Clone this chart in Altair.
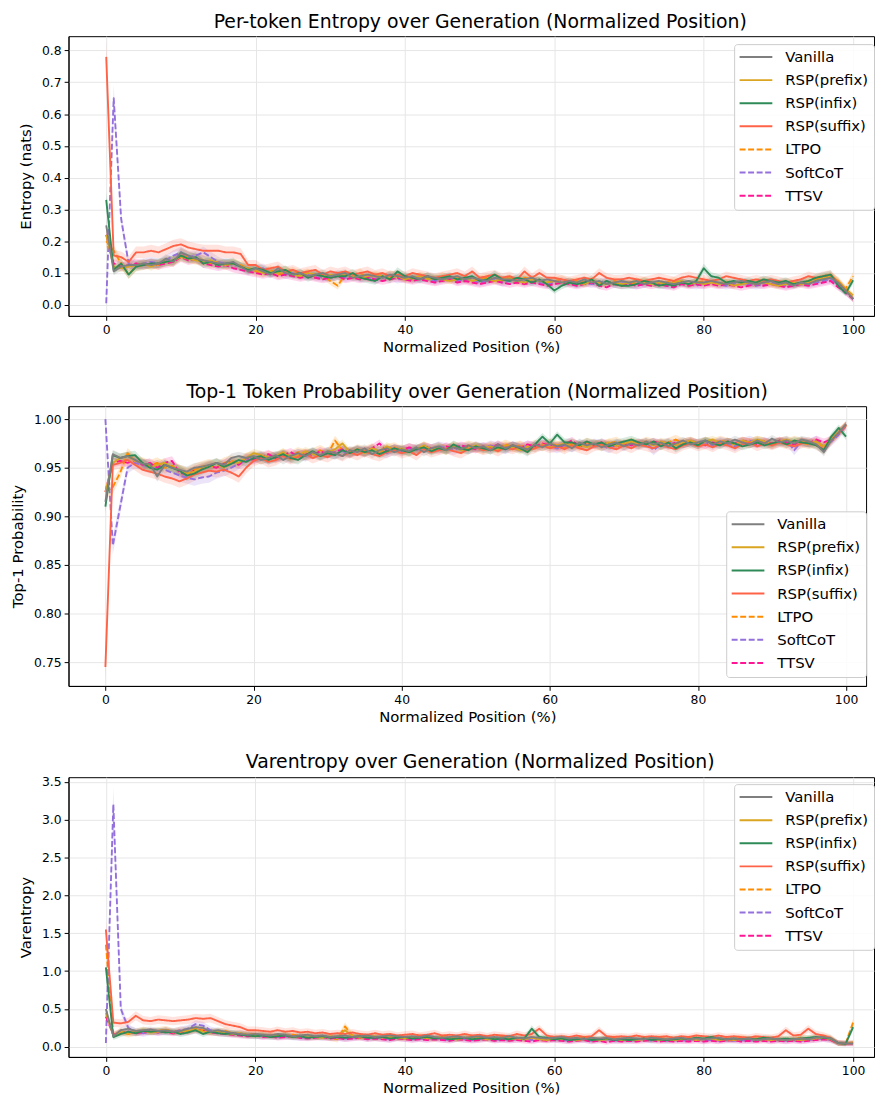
import altair as alt
import pandas as pd

METHODS = ["Vanilla", "RSP(prefix)", "RSP(infix)", "RSP(suffix)", "LTPO", "SoftCoT", "TTSV"]
COLORS = ["#7f7f7f", "#DAA520", "#2E8B57", "#FF6347", "#FF8C00", "#9370DB", "#FF1493"]
DASHED = [False, False, False, False, True, True, True]
DRAW_ORDER = ["LTPO", "SoftCoT", "TTSV", "RSP(prefix)", "RSP(suffix)", "RSP(infix)", "Vanilla"]
POS = list(range(101))
X_TICKS = [0, 20, 40, 60, 80, 100]

# ---------------- Per-token entropy (nats) ----------------
E_VAN = [
    0.25, 0.105, 0.12, 0.125, 0.125, 0.13, 0.125, 0.13, 0.145, 0.135,
    0.165, 0.155, 0.145, 0.14, 0.135, 0.13, 0.13, 0.135, 0.12, 0.105,
    0.115, 0.105, 0.095, 0.115, 0.10, 0.095, 0.10, 0.09, 0.095, 0.10,
    0.09, 0.095, 0.10, 0.085, 0.09, 0.095, 0.09, 0.085, 0.095, 0.09,
    0.085, 0.09, 0.08, 0.09, 0.085, 0.08, 0.085, 0.09, 0.08, 0.085,
    0.08, 0.075, 0.085, 0.08, 0.08, 0.075, 0.08, 0.085, 0.075, 0.08,
    0.075, 0.07, 0.075, 0.07, 0.08, 0.07, 0.075, 0.065, 0.07, 0.075,
    0.07, 0.075, 0.065, 0.07, 0.075, 0.07, 0.065, 0.07, 0.075, 0.07,
    0.07, 0.075, 0.07, 0.065, 0.07, 0.075, 0.07, 0.065, 0.07, 0.075,
    0.065, 0.07, 0.06, 0.07, 0.065, 0.075, 0.08, 0.085, 0.07, 0.045,
    0.018]
E_PRE = [
    0.22, 0.12, 0.115, 0.12, 0.125, 0.13, 0.12, 0.13, 0.135, 0.14,
    0.15, 0.145, 0.14, 0.135, 0.14, 0.13, 0.125, 0.13, 0.12, 0.115,
    0.11, 0.10, 0.105, 0.10, 0.11, 0.095, 0.09, 0.10, 0.095, 0.09,
    0.095, 0.09, 0.095, 0.09, 0.085, 0.09, 0.095, 0.09, 0.085, 0.09,
    0.08, 0.085, 0.09, 0.08, 0.085, 0.08, 0.075, 0.08, 0.085, 0.075,
    0.08, 0.08, 0.075, 0.08, 0.085, 0.075, 0.07, 0.08, 0.075, 0.07,
    0.075, 0.07, 0.075, 0.07, 0.065, 0.075, 0.07, 0.065, 0.07, 0.065,
    0.07, 0.075, 0.07, 0.065, 0.07, 0.065, 0.07, 0.075, 0.065, 0.07,
    0.065, 0.07, 0.065, 0.07, 0.06, 0.065, 0.07, 0.065, 0.07, 0.065,
    0.06, 0.065, 0.07, 0.065, 0.07, 0.075, 0.085, 0.09, 0.075, 0.05,
    0.03]
E_INF = [
    0.33, 0.11, 0.13, 0.095, 0.12, 0.125, 0.13, 0.13, 0.135, 0.14,
    0.155, 0.145, 0.15, 0.13, 0.135, 0.125, 0.13, 0.13, 0.12, 0.11,
    0.115, 0.11, 0.10, 0.105, 0.11, 0.095, 0.10, 0.085, 0.095, 0.09,
    0.085, 0.09, 0.09, 0.10, 0.085, 0.08, 0.075, 0.09, 0.08, 0.105,
    0.09, 0.085, 0.08, 0.09, 0.08, 0.085, 0.09, 0.08, 0.085, 0.09,
    0.075, 0.08, 0.095, 0.08, 0.075, 0.085, 0.08, 0.07, 0.08, 0.065,
    0.045, 0.06, 0.07, 0.065, 0.07, 0.08, 0.06, 0.075, 0.065, 0.06,
    0.06, 0.065, 0.075, 0.07, 0.06, 0.065, 0.06, 0.07, 0.065, 0.075,
    0.115, 0.09, 0.085, 0.07, 0.075, 0.07, 0.075, 0.07, 0.08, 0.075,
    0.07, 0.075, 0.065, 0.07, 0.075, 0.085, 0.09, 0.095, 0.06, 0.036,
    0.077]
E_SUF = [
    0.78, 0.155, 0.15, 0.135, 0.165, 0.165, 0.17, 0.165, 0.175, 0.185,
    0.19, 0.18, 0.175, 0.17, 0.17, 0.17, 0.165, 0.165, 0.16, 0.125,
    0.125, 0.11, 0.115, 0.12, 0.105, 0.11, 0.10, 0.105, 0.11, 0.095,
    0.105, 0.10, 0.105, 0.095, 0.10, 0.105, 0.095, 0.10, 0.09, 0.095,
    0.09, 0.10, 0.095, 0.09, 0.085, 0.09, 0.095, 0.10, 0.09, 0.105,
    0.085, 0.09, 0.095, 0.085, 0.09, 0.08, 0.105, 0.085, 0.10, 0.085,
    0.085, 0.08, 0.075, 0.08, 0.085, 0.08, 0.10, 0.085, 0.08, 0.08,
    0.085, 0.08, 0.075, 0.08, 0.085, 0.08, 0.075, 0.085, 0.09, 0.085,
    0.08, 0.075, 0.08, 0.09, 0.085, 0.08, 0.075, 0.08, 0.075, 0.08,
    0.075, 0.07, 0.075, 0.08, 0.09, 0.085, 0.09, 0.095, 0.07, 0.045,
    0.02]
E_LTPO = [
    0.20, 0.17, 0.13, 0.095, 0.12, 0.125, 0.13, 0.125, 0.14, 0.135,
    0.16, 0.15, 0.145, 0.14, 0.13, 0.135, 0.125, 0.13, 0.125, 0.115,
    0.105, 0.10, 0.11, 0.095, 0.10, 0.105, 0.095, 0.10, 0.09, 0.095,
    0.075, 0.06, 0.095, 0.09, 0.10, 0.085, 0.09, 0.085, 0.095, 0.09,
    0.085, 0.08, 0.09, 0.085, 0.08, 0.09, 0.08, 0.085, 0.08, 0.075,
    0.08, 0.085, 0.08, 0.075, 0.08, 0.075, 0.085, 0.08, 0.075, 0.07,
    0.075, 0.08, 0.07, 0.075, 0.07, 0.075, 0.07, 0.065, 0.075, 0.07,
    0.065, 0.07, 0.075, 0.07, 0.065, 0.07, 0.075, 0.07, 0.065, 0.07,
    0.075, 0.07, 0.065, 0.07, 0.065, 0.07, 0.065, 0.07, 0.075, 0.07,
    0.065, 0.07, 0.065, 0.07, 0.075, 0.08, 0.085, 0.09, 0.075, 0.05,
    0.09]
E_SOFT = [
    0.005, 0.65, 0.27, 0.13, 0.125, 0.13, 0.135, 0.13, 0.14, 0.155,
    0.165, 0.15, 0.155, 0.165, 0.15, 0.135, 0.13, 0.125, 0.12, 0.115,
    0.11, 0.115, 0.10, 0.105, 0.095, 0.10, 0.09, 0.095, 0.09, 0.085,
    0.09, 0.095, 0.085, 0.09, 0.085, 0.09, 0.08, 0.085, 0.09, 0.08,
    0.085, 0.08, 0.085, 0.08, 0.075, 0.08, 0.085, 0.075, 0.08, 0.075,
    0.07, 0.075, 0.08, 0.07, 0.075, 0.08, 0.07, 0.075, 0.07, 0.065,
    0.07, 0.075, 0.07, 0.065, 0.07, 0.065, 0.07, 0.075, 0.065, 0.07,
    0.065, 0.06, 0.065, 0.07, 0.065, 0.06, 0.065, 0.07, 0.065, 0.06,
    0.065, 0.07, 0.065, 0.06, 0.065, 0.07, 0.065, 0.06, 0.065, 0.07,
    0.065, 0.06, 0.065, 0.07, 0.065, 0.07, 0.075, 0.08, 0.065, 0.04,
    0.018]
E_TTSV = [
    0.22, 0.13, 0.12, 0.125, 0.13, 0.125, 0.13, 0.125, 0.13, 0.135,
    0.15, 0.14, 0.145, 0.13, 0.125, 0.12, 0.125, 0.115, 0.11, 0.105,
    0.10, 0.095, 0.10, 0.09, 0.095, 0.09, 0.085, 0.09, 0.085, 0.08,
    0.085, 0.09, 0.08, 0.085, 0.08, 0.085, 0.08, 0.075, 0.08, 0.085,
    0.08, 0.075, 0.08, 0.075, 0.07, 0.075, 0.08, 0.07, 0.075, 0.07,
    0.065, 0.07, 0.075, 0.07, 0.065, 0.07, 0.065, 0.07, 0.065, 0.06,
    0.065, 0.07, 0.065, 0.06, 0.065, 0.07, 0.06, 0.055, 0.065, 0.06,
    0.065, 0.06, 0.065, 0.06, 0.065, 0.06, 0.055, 0.065, 0.06, 0.065,
    0.06, 0.065, 0.06, 0.065, 0.06, 0.055, 0.06, 0.065, 0.06, 0.065,
    0.06, 0.055, 0.06, 0.065, 0.06, 0.065, 0.07, 0.075, 0.055, 0.04,
    0.018]

# ---------------- Top-1 token probability ----------------
P_VAN = [
    0.915, 0.964, 0.960, 0.962, 0.958, 0.954, 0.954, 0.941, 0.953, 0.950,
    0.948, 0.946, 0.950, 0.951, 0.953, 0.955, 0.953, 0.960, 0.962, 0.960,
    0.962, 0.958, 0.960, 0.963, 0.958, 0.962, 0.965, 0.962, 0.966, 0.963,
    0.967, 0.965, 0.962, 0.968, 0.966, 0.970, 0.964, 0.968, 0.970, 0.966,
    0.969, 0.967, 0.971, 0.966, 0.970, 0.972, 0.968, 0.971, 0.969, 0.973,
    0.970, 0.972, 0.968, 0.974, 0.970, 0.973, 0.971, 0.969, 0.974, 0.971,
    0.975, 0.972, 0.974, 0.970, 0.976, 0.973, 0.975, 0.971, 0.974, 0.976,
    0.972, 0.975, 0.973, 0.977, 0.974, 0.976, 0.972, 0.975, 0.978, 0.974,
    0.976, 0.978, 0.974, 0.977, 0.975, 0.979, 0.976, 0.974, 0.978, 0.975,
    0.980, 0.976, 0.978, 0.975, 0.979, 0.977, 0.974, 0.966, 0.978, 0.986,
    0.995]
P_PRE = [
    0.925, 0.955, 0.960, 0.962, 0.957, 0.955, 0.950, 0.953, 0.955, 0.950,
    0.948, 0.944, 0.946, 0.950, 0.952, 0.955, 0.950, 0.956, 0.955, 0.960,
    0.965, 0.963, 0.960, 0.962, 0.966, 0.960, 0.963, 0.967, 0.964, 0.962,
    0.966, 0.969, 0.975, 0.966, 0.968, 0.965, 0.970, 0.967, 0.972, 0.968,
    0.970, 0.966, 0.969, 0.973, 0.968, 0.971, 0.969, 0.972, 0.968, 0.970,
    0.973, 0.970, 0.972, 0.969, 0.973, 0.971, 0.968, 0.972, 0.970, 0.974,
    0.971, 0.973, 0.975, 0.972, 0.974, 0.971, 0.975, 0.973, 0.976, 0.972,
    0.975, 0.977, 0.974, 0.976, 0.973, 0.977, 0.975, 0.973, 0.976, 0.978,
    0.975, 0.977, 0.979, 0.975, 0.977, 0.974, 0.978, 0.976, 0.979, 0.977,
    0.974, 0.977, 0.979, 0.976, 0.978, 0.975, 0.977, 0.972, 0.980, 0.987,
    0.994]
P_INF = [
    0.910, 0.963, 0.960, 0.962, 0.963, 0.955, 0.950, 0.948, 0.953, 0.950,
    0.947, 0.942, 0.944, 0.948, 0.951, 0.955, 0.951, 0.954, 0.958, 0.956,
    0.960, 0.962, 0.958, 0.961, 0.964, 0.960, 0.958, 0.963, 0.967, 0.962,
    0.965, 0.963, 0.968, 0.965, 0.969, 0.966, 0.968, 0.964, 0.967, 0.970,
    0.968, 0.966, 0.969, 0.971, 0.967, 0.970, 0.968, 0.974, 0.970, 0.968,
    0.972, 0.970, 0.968, 0.971, 0.969, 0.973, 0.970, 0.966, 0.974, 0.982,
    0.975, 0.984, 0.976, 0.976, 0.973, 0.977, 0.974, 0.976, 0.972, 0.975,
    0.977, 0.979, 0.976, 0.974, 0.977, 0.972, 0.976, 0.970, 0.974, 0.976,
    0.973, 0.978, 0.975, 0.973, 0.977, 0.975, 0.972, 0.974, 0.976, 0.973,
    0.975, 0.977, 0.974, 0.978, 0.976, 0.975, 0.973, 0.968, 0.982, 0.991,
    0.982]
P_SUF = [
    0.745, 0.953, 0.955, 0.958, 0.953, 0.948, 0.946, 0.944, 0.941, 0.939,
    0.936, 0.939, 0.943, 0.945, 0.947, 0.946, 0.948, 0.945, 0.941, 0.950,
    0.957, 0.960, 0.956, 0.958, 0.962, 0.959, 0.961, 0.964, 0.960, 0.963,
    0.961, 0.965, 0.962, 0.966, 0.963, 0.967, 0.964, 0.962, 0.966, 0.968,
    0.965, 0.967, 0.963, 0.969, 0.966, 0.968, 0.970, 0.967, 0.965, 0.969,
    0.971, 0.968, 0.970, 0.967, 0.971, 0.969, 0.972, 0.968, 0.970, 0.973,
    0.970, 0.972, 0.969, 0.973, 0.970, 0.968, 0.972, 0.974, 0.971, 0.969,
    0.973, 0.970, 0.974, 0.972, 0.970, 0.974, 0.971, 0.969, 0.973, 0.975,
    0.972, 0.974, 0.971, 0.975, 0.973, 0.970, 0.974, 0.976, 0.972, 0.975,
    0.973, 0.976, 0.974, 0.972, 0.975, 0.977, 0.973, 0.969, 0.978, 0.986,
    0.993]
P_LTPO = [
    0.925, 0.930, 0.945, 0.965, 0.957, 0.955, 0.952, 0.955, 0.950, 0.952,
    0.947, 0.944, 0.948, 0.951, 0.953, 0.950, 0.955, 0.957, 0.955, 0.960,
    0.962, 0.959, 0.962, 0.960, 0.964, 0.962, 0.966, 0.963, 0.965, 0.968,
    0.964, 0.978, 0.968, 0.965, 0.969, 0.967, 0.970, 0.966, 0.969, 0.971,
    0.967, 0.970, 0.968, 0.972, 0.969, 0.971, 0.968, 0.972, 0.970, 0.973,
    0.971, 0.969, 0.972, 0.970, 0.974, 0.971, 0.973, 0.970, 0.974, 0.972,
    0.975, 0.973, 0.971, 0.975, 0.972, 0.976, 0.974, 0.972, 0.975, 0.977,
    0.973, 0.976, 0.974, 0.977, 0.975, 0.973, 0.976, 0.979, 0.975, 0.977,
    0.974, 0.977, 0.975, 0.978, 0.976, 0.974, 0.977, 0.975, 0.978, 0.976,
    0.974, 0.977, 0.975, 0.978, 0.976, 0.974, 0.976, 0.971, 0.979, 0.986,
    0.994]
P_SOFT = [
    1.000, 0.870, 0.910, 0.950, 0.955, 0.953, 0.950, 0.952, 0.948, 0.945,
    0.942, 0.940, 0.938, 0.940, 0.941, 0.945, 0.947, 0.950, 0.954, 0.957,
    0.960, 0.962, 0.959, 0.961, 0.963, 0.960, 0.964, 0.962, 0.965, 0.963,
    0.966, 0.964, 0.967, 0.965, 0.968, 0.966, 0.969, 0.967, 0.965, 0.969,
    0.967, 0.970, 0.968, 0.971, 0.969, 0.972, 0.970, 0.968, 0.971, 0.969,
    0.972, 0.970, 0.973, 0.971, 0.969, 0.972, 0.970, 0.973, 0.971, 0.974,
    0.972, 0.970, 0.973, 0.971, 0.974, 0.972, 0.975, 0.973, 0.970, 0.974,
    0.972, 0.975, 0.973, 0.976, 0.968, 0.974, 0.976, 0.973, 0.975, 0.977,
    0.974, 0.976, 0.973, 0.977, 0.975, 0.972, 0.976, 0.978, 0.975, 0.977,
    0.974, 0.976, 0.978, 0.968, 0.977, 0.975, 0.978, 0.972, 0.977, 0.984,
    0.993]
P_TTSV = [
    0.925, 0.955, 0.957, 0.955, 0.958, 0.953, 0.955, 0.950, 0.955, 0.957,
    0.945, 0.943, 0.947, 0.949, 0.952, 0.950, 0.954, 0.956, 0.953, 0.960,
    0.958, 0.961, 0.964, 0.960, 0.963, 0.966, 0.962, 0.965, 0.963, 0.967,
    0.964, 0.966, 0.969, 0.965, 0.968, 0.966, 0.970, 0.975, 0.967, 0.970,
    0.968, 0.971, 0.969, 0.972, 0.970, 0.968, 0.972, 0.970, 0.973, 0.971,
    0.969, 0.972, 0.970, 0.974, 0.971, 0.973, 0.970, 0.974, 0.972, 0.975,
    0.973, 0.971, 0.974, 0.978, 0.972, 0.975, 0.973, 0.976, 0.974, 0.972,
    0.975, 0.973, 0.976, 0.974, 0.977, 0.975, 0.973, 0.976, 0.974, 0.977,
    0.975, 0.973, 0.976, 0.974, 0.977, 0.975, 0.978, 0.976, 0.974, 0.977,
    0.975, 0.978, 0.976, 0.974, 0.977, 0.975, 0.979, 0.976, 0.979, 0.986,
    0.994]

# ---------------- Varentropy ----------------
V_VAN = [
    0.50, 0.14, 0.22, 0.24, 0.21, 0.22, 0.23, 0.21, 0.22, 0.20,
    0.21, 0.24, 0.26, 0.25, 0.20, 0.22, 0.20, 0.18, 0.17, 0.16,
    0.17, 0.16, 0.15, 0.17, 0.16, 0.14, 0.15, 0.16, 0.14, 0.15,
    0.13, 0.14, 0.15, 0.13, 0.14, 0.15, 0.13, 0.14, 0.15, 0.14,
    0.13, 0.14, 0.13, 0.15, 0.13, 0.12, 0.13, 0.14, 0.12, 0.13,
    0.14, 0.12, 0.13, 0.12, 0.14, 0.12, 0.11, 0.13, 0.12, 0.11,
    0.12, 0.13, 0.11, 0.12, 0.10, 0.12, 0.11, 0.12, 0.10, 0.11,
    0.12, 0.11, 0.10, 0.12, 0.11, 0.10, 0.11, 0.12, 0.10, 0.11,
    0.10, 0.11, 0.12, 0.10, 0.11, 0.10, 0.11, 0.09, 0.10, 0.11,
    0.10, 0.09, 0.10, 0.11, 0.10, 0.12, 0.13, 0.11, 0.05, 0.045,
    0.045]
V_PRE = [
    0.45, 0.15, 0.20, 0.18, 0.20, 0.21, 0.19, 0.20, 0.22, 0.19,
    0.20, 0.21, 0.23, 0.20, 0.19, 0.21, 0.18, 0.17, 0.18, 0.16,
    0.15, 0.16, 0.14, 0.15, 0.16, 0.13, 0.14, 0.15, 0.13, 0.12,
    0.14, 0.13, 0.22, 0.14, 0.12, 0.13, 0.14, 0.12, 0.13, 0.12,
    0.11, 0.12, 0.13, 0.11, 0.12, 0.13, 0.11, 0.10, 0.12, 0.11,
    0.12, 0.10, 0.11, 0.12, 0.10, 0.11, 0.10, 0.12, 0.10, 0.09,
    0.11, 0.10, 0.11, 0.09, 0.10, 0.11, 0.09, 0.10, 0.11, 0.09,
    0.10, 0.09, 0.10, 0.11, 0.09, 0.10, 0.09, 0.10, 0.11, 0.09,
    0.10, 0.11, 0.09, 0.10, 0.09, 0.10, 0.11, 0.09, 0.10, 0.09,
    0.10, 0.09, 0.10, 0.09, 0.10, 0.11, 0.12, 0.10, 0.05, 0.045,
    0.06]
V_INF = [
    1.05, 0.13, 0.17, 0.20, 0.18, 0.21, 0.20, 0.21, 0.19, 0.20,
    0.17, 0.19, 0.22, 0.17, 0.20, 0.18, 0.17, 0.18, 0.16, 0.15,
    0.14, 0.15, 0.13, 0.14, 0.15, 0.13, 0.14, 0.12, 0.13, 0.14,
    0.12, 0.13, 0.12, 0.13, 0.14, 0.12, 0.12, 0.13, 0.11, 0.12,
    0.13, 0.11, 0.12, 0.13, 0.11, 0.12, 0.10, 0.11, 0.12, 0.10,
    0.11, 0.12, 0.10, 0.11, 0.10, 0.12, 0.11, 0.24, 0.13, 0.12,
    0.10, 0.11, 0.09, 0.10, 0.11, 0.09, 0.10, 0.11, 0.09, 0.10,
    0.09, 0.10, 0.11, 0.09, 0.10, 0.09, 0.10, 0.11, 0.10, 0.12,
    0.11, 0.13, 0.11, 0.10, 0.11, 0.10, 0.11, 0.10, 0.12, 0.11,
    0.10, 0.11, 0.10, 0.11, 0.12, 0.13, 0.12, 0.11, 0.05, 0.04,
    0.26]
V_SUF = [
    1.55, 0.32, 0.31, 0.33, 0.41, 0.35, 0.34, 0.36, 0.35, 0.34,
    0.35, 0.36, 0.38, 0.37, 0.38, 0.34, 0.30, 0.28, 0.26, 0.22,
    0.22, 0.21, 0.20, 0.22, 0.20, 0.21, 0.19, 0.20, 0.18, 0.19,
    0.17, 0.18, 0.17, 0.19, 0.17, 0.16, 0.18, 0.16, 0.17, 0.15,
    0.16, 0.17, 0.15, 0.16, 0.18, 0.15, 0.16, 0.15, 0.17, 0.15,
    0.16, 0.14, 0.16, 0.15, 0.14, 0.17, 0.15, 0.17, 0.24, 0.15,
    0.13, 0.14, 0.13, 0.15, 0.13, 0.14, 0.22, 0.14, 0.13, 0.14,
    0.13, 0.15, 0.13, 0.14, 0.13, 0.14, 0.12, 0.14, 0.13, 0.15,
    0.14, 0.13, 0.15, 0.13, 0.14, 0.13, 0.12, 0.14, 0.13, 0.12,
    0.14, 0.22, 0.15, 0.16, 0.24, 0.17, 0.15, 0.12, 0.05, 0.045,
    0.045]
V_LTPO = [
    1.35, 0.16, 0.20, 0.17, 0.19, 0.22, 0.20, 0.21, 0.23, 0.20,
    0.22, 0.21, 0.24, 0.22, 0.20, 0.19, 0.21, 0.18, 0.17, 0.16,
    0.17, 0.15, 0.16, 0.14, 0.15, 0.16, 0.14, 0.15, 0.13, 0.14,
    0.12, 0.10, 0.27, 0.15, 0.13, 0.14, 0.12, 0.13, 0.14, 0.12,
    0.13, 0.12, 0.14, 0.12, 0.11, 0.13, 0.12, 0.11, 0.12, 0.13,
    0.11, 0.12, 0.11, 0.13, 0.11, 0.12, 0.10, 0.12, 0.11, 0.10,
    0.12, 0.11, 0.10, 0.11, 0.12, 0.10, 0.11, 0.10, 0.12, 0.10,
    0.11, 0.10, 0.11, 0.10, 0.12, 0.10, 0.11, 0.10, 0.11, 0.12,
    0.10, 0.11, 0.10, 0.11, 0.10, 0.12, 0.10, 0.11, 0.10, 0.11,
    0.10, 0.11, 0.10, 0.12, 0.11, 0.12, 0.13, 0.11, 0.05, 0.045,
    0.32]
V_SOFT = [
    0.05, 3.20, 0.50, 0.25, 0.20, 0.18, 0.20, 0.19, 0.21, 0.20,
    0.22, 0.24, 0.30, 0.28, 0.22, 0.20, 0.19, 0.17, 0.18, 0.16,
    0.15, 0.14, 0.15, 0.13, 0.14, 0.13, 0.12, 0.13, 0.14, 0.12,
    0.13, 0.12, 0.11, 0.12, 0.13, 0.11, 0.12, 0.11, 0.10, 0.12,
    0.11, 0.10, 0.11, 0.10, 0.12, 0.10, 0.09, 0.11, 0.10, 0.09,
    0.10, 0.11, 0.09, 0.10, 0.09, 0.10, 0.11, 0.09, 0.10, 0.09,
    0.10, 0.09, 0.08, 0.10, 0.09, 0.08, 0.09, 0.10, 0.08, 0.09,
    0.08, 0.09, 0.10, 0.08, 0.09, 0.08, 0.09, 0.08, 0.09, 0.10,
    0.08, 0.09, 0.08, 0.09, 0.08, 0.09, 0.08, 0.09, 0.10, 0.08,
    0.09, 0.08, 0.09, 0.08, 0.09, 0.10, 0.11, 0.09, 0.05, 0.045,
    0.045]
V_TTSV = [
    0.40, 0.16, 0.19, 0.20, 0.18, 0.19, 0.21, 0.19, 0.20, 0.18,
    0.19, 0.20, 0.22, 0.21, 0.19, 0.18, 0.17, 0.16, 0.15, 0.14,
    0.15, 0.13, 0.14, 0.12, 0.13, 0.14, 0.12, 0.11, 0.12, 0.13,
    0.11, 0.12, 0.10, 0.11, 0.12, 0.10, 0.11, 0.10, 0.09, 0.11,
    0.10, 0.09, 0.10, 0.09, 0.10, 0.09, 0.08, 0.10, 0.09, 0.08,
    0.09, 0.10, 0.08, 0.09, 0.08, 0.09, 0.08, 0.07, 0.09, 0.08,
    0.09, 0.08, 0.07, 0.08, 0.09, 0.07, 0.08, 0.06, 0.08, 0.07,
    0.08, 0.07, 0.08, 0.09, 0.07, 0.08, 0.07, 0.08, 0.07, 0.08,
    0.07, 0.08, 0.07, 0.08, 0.09, 0.07, 0.08, 0.07, 0.08, 0.07,
    0.08, 0.07, 0.08, 0.07, 0.08, 0.09, 0.10, 0.09, 0.05, 0.045,
    0.045]

# shaded-band half widths (absolute part per method, relative part per panel)
E_BAND = [0.007, 0.007, 0.008, 0.010, 0.009, 0.009, 0.008]
P_BAND = [0.003, 0.003, 0.003, 0.004, 0.004, 0.004, 0.003]
V_BAND = [0.025, 0.025, 0.030, 0.035, 0.035, 0.035, 0.030]

FONT = "DejaVu Sans"


def build_frame(series, band, rel, prob):
    rows = []
    lookup = dict(zip(METHODS, zip(series, band)))
    for m in DRAW_ORDER:
        vals, b = lookup[m]
        for x, v in zip(POS, vals):
            spread = (1.0 - v) if prob else v
            hw = b + rel * spread
            rows.append({"pos": x, "value": v, "lo": v - hw, "hi": v + hw, "method": m})
    return pd.DataFrame(rows)


def panel(df, title, ytitle, xdomain, ydomain, yticks, yfmt, width, height, legend_x, legend_y, dx):
    color_scale = alt.Scale(domain=METHODS, range=COLORS)
    # reversed domain keeps the band scale separate from the line legend
    fill_scale = alt.Scale(domain=METHODS[::-1], range=COLORS[::-1])
    dash_scale = alt.Scale(domain=METHODS, range=[[6, 2.6] if d else [1, 0] for d in DASHED])
    xscale = alt.Scale(domain=xdomain, nice=False, zero=False)
    yscale = alt.Scale(domain=ydomain, nice=False, zero=False)
    xaxis = alt.Axis(values=X_TICKS, format="d", title="Normalized Position (%)")
    yaxis = alt.Axis(values=yticks, format=yfmt, title=ytitle)
    leg = alt.Legend(
        title=None, orient="none", legendX=legend_x, legendY=legend_y,
        fillColor="rgba(255,255,255,0.85)", strokeColor="#cccccc", cornerRadius=3,
        padding=5.5, rowPadding=7.3, symbolType="M-3.3,0L3.3,0", symbolSize=100,
        symbolStrokeWidth=2, symbolOffset=9, labelOffset=22, labelFontSize=15,
        labelFont=FONT, labelColor="black",
    )
    band_layer = alt.Chart(df).mark_area(opacity=0.18, clip=True).encode(
        x=alt.X("pos:Q", scale=xscale, axis=xaxis),
        y=alt.Y("lo:Q", scale=yscale, axis=yaxis),
        y2="hi:Q",
        fill=alt.Fill("method:N", scale=fill_scale, legend=None),
    )
    line_layer = alt.Chart(df).mark_line(strokeWidth=1.9, clip=True, strokeJoin="round").encode(
        x=alt.X("pos:Q", scale=xscale, axis=xaxis),
        y=alt.Y("value:Q", scale=yscale, axis=yaxis),
        color=alt.Color("method:N", scale=color_scale, legend=leg),
        strokeDash=alt.StrokeDash("method:N", scale=dash_scale, legend=leg),
    )
    return alt.layer(band_layer, line_layer).properties(
        width=width, height=height,
        title=alt.TitleParams(text=title, dx=dx),
    )


H = 282
ent_df = build_frame([E_VAN, E_PRE, E_INF, E_SUF, E_LTPO, E_SOFT, E_TTSV], E_BAND, 0.05, False)
prob_df = build_frame([P_VAN, P_PRE, P_INF, P_SUF, P_LTPO, P_SOFT, P_TTSV], P_BAND, 0.04, True)
var_df = build_frame([V_VAN, V_PRE, V_INF, V_SUF, V_LTPO, V_SOFT, V_TTSV], V_BAND, 0.06, False)

p1 = panel(ent_df, "Per-token Entropy over Generation (Normalized Position)", "Entropy (nats)",
           [-5.05, 102.8], [-0.035, 0.845], [0.0, 0.1, 0.2, 0.3, 0.4, 0.5, 0.6, 0.7, 0.8], ".1f",
           812, H, 671, 8, 9)
p2 = panel(prob_df, "Top-1 Token Probability over Generation (Normalized Position)", "Top-1 Probability",
           [-4.98, 102.7], [0.7256, 1.0133], [0.75, 0.80, 0.85, 0.90, 0.95, 1.00], ".2f",
           804, H, 663, H - 176, 10)
p3 = panel(var_df, "Varentropy over Generation (Normalized Position)", "Varentropy",
           [-5.0, 102.8], [-0.133, 3.56], [0.0, 0.5, 1.0, 1.5, 2.0, 2.5, 3.0, 3.5], ".1f",
           812, H, 671, 7, 9)

chart = alt.vconcat(p1, p2, p3, spacing=28).resolve_scale(
    color="independent", strokeDash="independent", fill="independent"
).resolve_legend(
    color="independent", strokeDash="independent", fill="independent"
).properties(
    padding={"left": 2, "top": 0, "right": 0, "bottom": 0}
).configure(font=FONT).configure_view(stroke="black", strokeWidth=1).configure_axis(
    domainColor="black", domainWidth=1, tickColor="black", tickWidth=1, tickSize=4.4,
    labelFontSize=12.5, labelColor="black", labelFont=FONT,
    titleFontSize=15, titleFontWeight="normal", titleColor="black", titleFont=FONT,
    gridColor="#e6e6e6", gridWidth=1, grid=True,
).configure_axisX(labelPadding=3.5, titlePadding=3).configure_axisY(
    labelPadding=3, titlePadding=8
).configure_title(fontSize=19, fontWeight="normal", color="black", font=FONT, offset=4, anchor="middle")

chart.save("out.html", embed_options={"renderer": "svg", "actions": False})
